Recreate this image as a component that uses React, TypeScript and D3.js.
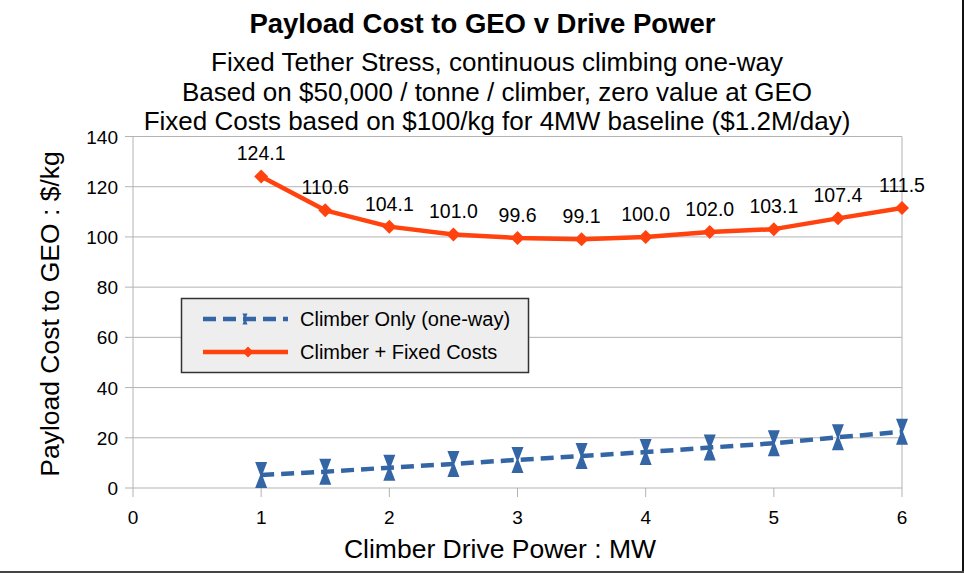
import React from "react";
import * as d3 from "d3";

const powers = [1, 1.5, 2, 2.5, 3, 3.5, 4, 4.5, 5, 5.5, 6];
const climberOnly = [5.2, 6.5, 8.1, 9.6, 11.2, 12.7, 14.3, 16.1, 17.8, 20.2, 22.4];
const climberFixed = [124.1, 110.6, 104.1, 101.0, 99.6, 99.1, 100.0, 102.0, 103.1, 107.4, 111.5];
const xTicks = [0, 1, 2, 3, 4, 5, 6];
const yTicks = [0, 20, 40, 60, 80, 100, 120, 140];
const titleText = "Payload Cost to GEO v Drive Power";
const subtitles = [
  "Fixed Tether Stress, continuous climbing one-way",
  "Based on $50,000 / tonne / climber, zero value at GEO",
  "Fixed Costs based on $100/kg for 4MW baseline ($1.2M/day)",
];
const seriesNames = ["Climber Only (one-way)", "Climber + Fixed Costs"];

const W = 964;
const H = 573;
const BLUE = "#3465a4";
const ORANGE = "#ff420e";
const FONT = "'Liberation Sans', Arial, sans-serif";

export default function App() {
  const x = d3.scaleLinear().domain([0, 6]).range([133, 902]);
  const y = d3.scaleLinear().domain([0, 140]).range([488, 136.5]);

  const lineGen = d3
    .line<number>()
    .x((_, i) => x(powers[i]))
    .y((d) => y(d));

  const hourglass = (s: number) =>
    `M${-6 * s},${-13 * s} L${6 * s},${-13 * s} L${1 * s},0 L${6 * s},${13 * s} L${-6 * s},${13 * s} L${-1 * s},0 Z`;
  const diamond = (r: number) => `M0,${-r} L${r},0 L0,${r} L${-r},0 Z`;

  return (
    <svg
      width={W}
      height={H}
      style={{ position: "absolute", left: 0, top: 0, background: "#fff" }}
      fontFamily={FONT}
    >
      <rect x={0} y={0} width={W} height={H} fill="#fff" />
      <line x1={963} y1={0} x2={963} y2={572} stroke="#111" strokeWidth={2} />
      <line x1={0} y1={572} x2={964} y2={572} stroke="#444" strokeWidth={2} />

      <text x={482.5} y={33} textAnchor="middle" fontSize={27.5} fontWeight="bold" fill="#000">
        {titleText}
      </text>
      {subtitles.map((s, i) => (
        <text key={i} x={497} y={71 + i * 29.5} textAnchor="middle" fontSize={26} fill="#000">
          {s}
        </text>
      ))}

      {yTicks.map((t) => (
        <g key={t}>
          <line x1={125} x2={902} y1={y(t)} y2={y(t)} stroke="#b3b3b3" strokeWidth={1} />
          <text x={118} y={y(t) + 7} textAnchor="end" fontSize={19} fill="#000">
            {t}
          </text>
        </g>
      ))}
      <line x1={133} x2={133} y1={y(140)} y2={488} stroke="#b3b3b3" strokeWidth={1} />
      <line x1={902} x2={902} y1={y(140)} y2={488} stroke="#b3b3b3" strokeWidth={1} />
      {xTicks.map((t) => (
        <g key={t}>
          <line x1={x(t)} x2={x(t)} y1={488} y2={497} stroke="#b3b3b3" strokeWidth={1} />
          <text x={x(t)} y={524} textAnchor="middle" fontSize={19} fill="#000">
            {t}
          </text>
        </g>
      ))}

      <text x={500} y={558} textAnchor="middle" fontSize={26.5} fill="#000">
        Climber Drive Power : MW
      </text>
      <text
        transform={`translate(59,314) rotate(-90)`}
        textAnchor="middle"
        fontSize={26.5}
        fill="#000"
      >
        Payload Cost to GEO : $/kg
      </text>

      <path
        d={lineGen(climberOnly) || ""}
        fill="none"
        stroke={BLUE}
        strokeWidth={4.5}
        strokeDasharray="13,7"
      />
      {climberOnly.map((v, i) => (
        <path
          key={i}
          d={hourglass(1)}
          transform={`translate(${x(powers[i])},${y(v)})`}
          fill={BLUE}
        />
      ))}

      <path d={lineGen(climberFixed) || ""} fill="none" stroke={ORANGE} strokeWidth={4.5} strokeLinejoin="round" />
      {climberFixed.map((v, i) => (
        <g key={i} transform={`translate(${x(powers[i])},${y(v)})`}>
          <path d={diamond(7)} fill={ORANGE} />
          <text y={-16} textAnchor="middle" fontSize={19.5} fill="#000">
            {v.toFixed(1)}
          </text>
        </g>
      ))}

      <rect x={181.5} y={298.5} width={347} height={74} fill="#eeeeee" stroke="#333" strokeWidth={1.5} />
      <line x1={203} x2={288} y1={319} y2={319} stroke={BLUE} strokeWidth={4.5} strokeDasharray="13,7" />
      <path d={hourglass(0.42)} transform="translate(245,319)" fill={BLUE} />
      <text x={300} y={326} fontSize={20} fill="#000">
        {seriesNames[0]}
      </text>
      <line x1={203} x2={288} y1={352} y2={352} stroke={ORANGE} strokeWidth={4.5} />
      <path d={diamond(5.5)} transform="translate(248,352)" fill={ORANGE} />
      <text x={300} y={359} fontSize={20} fill="#000">
        {seriesNames[1]}
      </text>
    </svg>
  );
}
